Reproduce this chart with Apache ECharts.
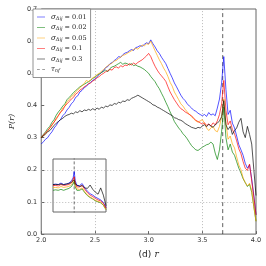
<!DOCTYPE html>
<html><head><meta charset="utf-8">
<script src="https://cdn.jsdelivr.net/npm/echarts@6/dist/echarts.min.js"></script>
<style>html,body{margin:0;padding:0;background:#fff}#c{width:266px;height:266px}</style>
</head><body><div id="c"></div>
<script>
const rValues = [
2.00,2.02,2.04,2.06,2.08,2.10,2.12,2.14,2.16,2.18,
2.20,2.22,2.24,2.26,2.28,2.30,2.32,2.34,2.36,2.38,
2.40,2.42,2.44,2.46,2.48,2.50,2.52,2.54,2.56,2.58,
2.60,2.62,2.64,2.66,2.68,2.70,2.72,2.74,2.76,2.78,
2.80,2.82,2.84,2.86,2.88,2.90,2.92,2.94,2.96,2.98,
3.00,3.02,3.04,3.06,3.08,3.10,3.12,3.14,3.16,3.18,
3.20,3.22,3.24,3.26,3.28,3.30,3.32,3.34,3.36,3.38,
3.40,3.42,3.44,3.46,3.48,3.50,3.52,3.54,3.56,3.58,
3.60,3.62,3.64,3.66,3.68,3.70,3.72,3.74,3.76,3.78,
3.80,3.82,3.84,3.86,3.88,3.90,3.92,3.94,3.96,3.98,
4.00];
const sigma001 = [
0.280,0.287,0.295,0.300,0.310,0.318,0.330,0.338,0.350,0.356,
0.368,0.375,0.386,0.394,0.405,0.412,0.425,0.430,0.442,0.447,
0.455,0.460,0.466,0.472,0.478,0.482,0.490,0.496,0.503,0.508,
0.518,0.521,0.530,0.533,0.540,0.544,0.552,0.550,0.558,0.563,
0.565,0.570,0.574,0.571,0.580,0.582,0.586,0.584,0.590,0.595,
0.592,0.604,0.592,0.582,0.570,0.562,0.550,0.540,0.530,0.515,
0.500,0.486,0.470,0.458,0.445,0.432,0.422,0.415,0.405,0.398,
0.392,0.385,0.382,0.376,0.372,0.368,0.372,0.366,0.378,0.370,
0.374,0.368,0.392,0.420,0.470,0.552,0.450,0.372,0.385,0.345,
0.330,0.305,0.278,0.262,0.245,0.220,0.205,0.215,0.172,0.120,
0.060];
const sigma002 = [
0.300,0.310,0.318,0.328,0.335,0.348,0.356,0.370,0.380,0.388,
0.398,0.405,0.418,0.425,0.432,0.440,0.446,0.452,0.458,0.462,
0.466,0.470,0.474,0.478,0.484,0.488,0.494,0.498,0.502,0.506,
0.510,0.505,0.515,0.520,0.522,0.526,0.530,0.534,0.528,0.532,
0.530,0.526,0.530,0.524,0.526,0.522,0.520,0.516,0.512,0.506,
0.500,0.490,0.482,0.474,0.462,0.452,0.438,0.425,0.410,0.396,
0.380,0.366,0.350,0.340,0.330,0.322,0.312,0.305,0.296,0.285,
0.275,0.268,0.262,0.260,0.265,0.270,0.274,0.278,0.280,0.286,
0.280,0.252,0.232,0.262,0.320,0.395,0.300,0.262,0.280,0.255,
0.245,0.225,0.205,0.190,0.172,0.160,0.148,0.155,0.130,0.085,
0.040];
const sigma005 = [
0.300,0.305,0.312,0.320,0.330,0.338,0.350,0.356,0.370,0.378,
0.392,0.398,0.412,0.418,0.428,0.432,0.442,0.448,0.455,0.462,
0.468,0.478,0.474,0.480,0.486,0.490,0.496,0.500,0.506,0.512,
0.518,0.524,0.528,0.532,0.538,0.540,0.546,0.550,0.556,0.558,
0.562,0.566,0.570,0.574,0.578,0.575,0.582,0.588,0.585,0.592,
0.590,0.600,0.585,0.570,0.556,0.542,0.530,0.516,0.505,0.490,
0.472,0.460,0.442,0.430,0.418,0.405,0.398,0.388,0.380,0.372,
0.365,0.358,0.352,0.348,0.352,0.356,0.345,0.330,0.322,0.330,
0.335,0.322,0.318,0.335,0.365,0.420,0.345,0.295,0.305,0.280,
0.268,0.240,0.215,0.200,0.175,0.160,0.150,0.158,0.135,0.085,
0.040];
const sigma01 = [
0.300,0.308,0.315,0.322,0.330,0.340,0.348,0.360,0.368,0.380,
0.385,0.398,0.405,0.412,0.420,0.425,0.435,0.440,0.448,0.452,
0.458,0.462,0.468,0.470,0.476,0.480,0.486,0.490,0.496,0.500,
0.505,0.508,0.512,0.510,0.518,0.520,0.516,0.524,0.520,0.526,
0.524,0.530,0.526,0.532,0.528,0.534,0.538,0.542,0.548,0.554,
0.562,0.552,0.536,0.522,0.510,0.500,0.492,0.484,0.475,0.458,
0.442,0.430,0.418,0.408,0.398,0.390,0.386,0.380,0.376,0.372,
0.368,0.360,0.354,0.350,0.346,0.342,0.346,0.338,0.342,0.336,
0.346,0.340,0.352,0.372,0.405,0.478,0.385,0.340,0.352,0.325,
0.312,0.290,0.265,0.250,0.225,0.205,0.198,0.218,0.165,0.115,
0.060];
const sigma03 = [
0.300,0.305,0.312,0.318,0.322,0.330,0.338,0.345,0.350,0.356,
0.360,0.366,0.370,0.372,0.376,0.374,0.380,0.378,0.384,0.380,
0.386,0.384,0.388,0.385,0.390,0.386,0.392,0.388,0.395,0.392,
0.398,0.396,0.402,0.400,0.406,0.404,0.410,0.408,0.414,0.412,
0.418,0.416,0.422,0.425,0.428,0.432,0.428,0.424,0.420,0.416,
0.412,0.408,0.402,0.400,0.395,0.392,0.388,0.384,0.380,0.376,
0.372,0.368,0.362,0.360,0.356,0.354,0.350,0.344,0.340,0.336,
0.332,0.330,0.328,0.332,0.330,0.336,0.340,0.334,0.342,0.336,
0.332,0.340,0.345,0.352,0.365,0.415,0.340,0.325,0.335,0.310,
0.322,0.330,0.348,0.360,0.318,0.300,0.335,0.310,0.280,0.200,
0.120];
const tauNF = 3.69;
const gridX = [2.5, 3.5];
const gridY = [0.1, 0.2];

// inset (relative units)
const insetX = [0,0.05,0.1,0.15,0.2,0.25,0.3,0.35,0.38,0.4,0.42,0.45,0.5,0.55,0.6,0.65,0.7,0.75,0.8,0.85,0.9,0.95,1.0];
const insetBlue   = [0.52,0.53,0.52,0.55,0.52,0.53,0.55,0.60,0.66,0.79,0.60,0.50,0.50,0.54,0.45,0.38,0.33,0.30,0.26,0.23,0.20,0.15,0.04];
const insetGreen  = [0.40,0.41,0.40,0.42,0.40,0.42,0.44,0.48,0.52,0.58,0.47,0.40,0.40,0.43,0.35,0.29,0.25,0.22,0.18,0.16,0.14,0.09,0.00];
const insetOrange = [0.46,0.46,0.45,0.48,0.46,0.47,0.48,0.52,0.55,0.62,0.50,0.43,0.42,0.45,0.37,0.30,0.26,0.23,0.19,0.17,0.15,0.10,0.00];
const insetRed    = [0.50,0.50,0.49,0.52,0.50,0.51,0.52,0.56,0.60,0.68,0.55,0.47,0.47,0.50,0.42,0.35,0.30,0.27,0.23,0.20,0.18,0.13,0.03];
const insetBlack  = [0.52,0.52,0.52,0.53,0.52,0.53,0.54,0.57,0.58,0.62,0.53,0.50,0.48,0.50,0.45,0.44,0.51,0.42,0.36,0.32,0.45,0.30,0.08];
const insetTau = 0.4;

const names = ['s001','s002','s005','s01','s03'];
const labels = {s001:'0.01', s002:'0.02', s005:'0.05', s01:'0.1', s03:'0.3'};
const colors = ['#0000ff','#008000','#ffa500','#ff0000','#000000'];
const mainData = [sigma001, sigma002, sigma005, sigma01, sigma03];
const insetData = [insetBlue, insetGreen, insetOrange, insetRed, insetBlack];

const series = [];
names.forEach((n,k)=>{
  series.push({name:n, type:'line', xAxisIndex:0, yAxisIndex:0, symbol:'none', silent:true,
    data: rValues.map((x,i)=>[x, mainData[k][i]]),
    lineStyle:{color:colors[k], width:0.8, opacity:0.85}, itemStyle:{color:colors[k]}, z:3+k});
});
series.push({name:'tau', type:'line', xAxisIndex:0, yAxisIndex:0, symbol:'none', silent:true,
  data:[[tauNF,0],[tauNF,0.7]], lineStyle:{color:'#000', width:0.9, type:[4,3], opacity:0.7}, itemStyle:{color:'#000'}, z:2,
  markLine:{silent:true, symbol:'none', label:{show:false},
    lineStyle:{color:'#aaa', width:0.8, type:[1,2]},
    data:[...gridX.map(v=>({xAxis:v})), ...gridY.map(v=>({yAxis:v}))]}});
names.forEach((n,k)=>{
  series.push({name:'in_'+n, type:'line', xAxisIndex:1, yAxisIndex:1, symbol:'none', silent:true,
    data: insetX.map((x,i)=>[x, insetData[k][i]]),
    lineStyle:{color:colors[k], width:0.8, opacity:0.85}, z:10+k});
});
series.push({name:'in_tau', type:'line', xAxisIndex:1, yAxisIndex:1, symbol:'none', silent:true,
  data:[[insetTau,-0.1],[insetTau,1.1]], lineStyle:{color:'#000', width:0.8, type:[3,2], opacity:0.7}, z:9});

const lineIcon = 'path://M0 0H0.01V0.01H0Z M0 4.6H10V5.4H0Z M9.99 9.99H10V10H9.99Z';
const dashIcon = 'path://M0 0H0.01V0.01H0Z M0 4.6H3.5V5.4H0Z M6.5 4.6H10V5.4H6.5Z M9.99 9.99H10V10H9.99Z';

const chart = echarts.init(document.getElementById('c'), null, {renderer:'canvas'});
chart.setOption({
  animation:false,
  grid:[
    {left:29, right:10, top:9, bottom:27, show:true, borderColor:'#666', borderWidth:1, backgroundColor:'transparent'},
    {left:53, top:159, width:53, height:53, show:true, borderColor:'#666', borderWidth:1, backgroundColor:'#fff'}
  ],
  xAxis:[
    {type:'value', gridIndex:0, min:2.0, max:4.0, interval:0.5,
     axisLine:{show:false}, axisTick:{show:true, inside:true, length:3, lineStyle:{color:'#666'}},
     splitLine:{show:false},
     axisLabel:{fontSize:6.5, color:'#333', margin:3, fontFamily:'DejaVu Sans', formatter:v=>v.toFixed(1)},
     name:'{a|(d)} {b|r}', nameLocation:'middle', nameGap:13,
     nameTextStyle:{rich:{a:{fontSize:9, fontFamily:'DejaVu Sans', color:'#222'}, b:{fontSize:9, fontFamily:'DejaVu Serif', fontStyle:'italic', color:'#222'}}}},
    {type:'value', gridIndex:1, min:0, max:1, show:true, axisLine:{show:false}, axisTick:{show:false}, axisLabel:{show:false}, splitLine:{show:false}}
  ],
  yAxis:[
    {type:'value', gridIndex:0, min:0, max:0.7, interval:0.1,
     axisLine:{show:false}, axisTick:{show:true, inside:true, length:3, lineStyle:{color:'#666'}},
     splitLine:{show:false},
     axisLabel:{fontSize:6.5, color:'#333', margin:4, fontFamily:'DejaVu Sans', formatter:v=>v.toFixed(1)},
     name:'P(r)', nameLocation:'middle', nameGap:19, nameRotate:90,
     nameTextStyle:{fontSize:8, fontFamily:'DejaVu Serif', fontStyle:'italic', color:'#222'}},
    {type:'value', gridIndex:1, min:-0.05, max:1.05, show:true, axisLine:{show:false}, axisTick:{show:false}, axisLabel:{show:false}, splitLine:{show:false}}
  ],
  legend:{
    data:[...names.map((n,k)=>({name:n, icon:lineIcon, itemStyle:{color:colors[k]}})), {name:'tau', icon:dashIcon, itemStyle:{color:'#444'}}],
    orient:'vertical', left:33, top:9, padding:[4,4,4,4], itemWidth:10, itemHeight:8, itemGap:2.5,
    backgroundColor:'#fff', borderColor:'#777', borderWidth:0.8, borderRadius:0,
    selectedMode:false,
    textStyle:{fontSize:6.5, color:'#222', fontFamily:'DejaVu Serif',
      rich:{
        i:{fontSize:7, fontFamily:'DejaVu Serif', fontStyle:'italic', color:'#222'},
        s:{fontSize:5, fontFamily:'DejaVu Serif', fontStyle:'italic', color:'#222', padding:[3,0,0,0]},
        n:{fontSize:6.5, fontFamily:'DejaVu Serif', color:'#222'}
      }},
    formatter:function(name){
      if(name==='tau') return '{i|τ}{s|nf}';
      return '{i|σ}{s|Δij}{n| = ' + labels[name] + '}';
    }
  },
  series:series
});
</script></body></html>
